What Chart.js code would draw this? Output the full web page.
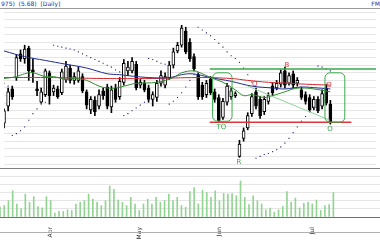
<!DOCTYPE html>
<html>
<head>
<meta charset="utf-8">
<script src="https://cdn.jsdelivr.net/npm/chart.js@4.4.0/dist/chart.umd.min.js"></script>
<style>
  body { margin: 0; background: #fff; width: 380px; height: 240px; overflow: hidden; position: relative; font-family: "DejaVu Sans", sans-serif; }
  #title { position: absolute; left: 1px; top: 0; font-size: 6px; line-height: 7px; color: #2c2c9c; white-space: pre; }
  #code { position: absolute; right: 0; top: 0; font-size: 6px; line-height: 7px; color: #2c2c9c; }
  .rule { position: absolute; left: 0; width: 380px; height: 1px; background: #9a9a9a; }
  #price-chart { position: absolute; left: 0; top: 8px; }
  #volume-chart { position: absolute; left: 0; top: 168px; }
</style>
</head>
<body>
<div id="title">975)  (5.68)  [Daily]</div>
<div id="code">FM</div>
<canvas id="price-chart" width="380" height="160"></canvas>
<canvas id="volume-chart" width="380" height="72"></canvas>
<div class="rule" style="top:8px"></div>
<div class="rule" style="top:168px; background:#808080"></div>
<div class="rule" style="top:232px; background:#b0b0b0"></div>
<script>
// daily prices, one entry per trading day (index 0 = first bar on the left)
let opens = [5.66,6.02,6.38,6.62,7.12,7.02,7.24,6.78,6.38,6.10, 6.26,6.72,6.32,6.38,6.30,6.58,6.82,6.56,6.56,6.64,
  6.32,5.94,6.14,6.02,6.34,6.42,6.00,6.40,6.22,6.52, 6.76,6.76,6.90,6.46,6.50,6.40,6.16,6.20,6.50,6.46,
  6.62,6.88,7.18,7.30,7.60,7.36,7.06,6.68,6.46,6.26, 6.58,6.32,6.20,5.78,6.10,6.22,6.24,4.96,5.34,5.56,
  5.86,6.32,6.16,5.90,6.12,6.44,6.40,6.48,6.76,6.50, 6.70,6.50,6.36,6.26,6.20,5.98,6.16,6.02,6.40,6.06];
let closes = [5.92,6.32,6.22,7.04,7.02,7.22,6.76,6.74,6.34,6.32, 6.76,6.24,6.40,6.22,6.74,6.86,6.56,6.64,6.76,6.34,
  6.04,6.16,5.90,6.26,6.24,6.02,6.36,6.16,6.54,6.92, 6.84,6.96,6.40,6.52,6.36,6.16,6.26,6.50,6.66,6.64,
  6.88,7.16,7.30,7.66,7.16,7.02,6.80,6.22,6.22,6.50, 6.30,6.16,5.72,6.12,6.44,6.34,6.28,5.22,5.50,5.82,
  6.22,6.02,5.82,6.16,6.24,6.30,6.50,6.72,6.46,6.66, 6.46,6.56,6.20,6.12,5.94,6.16,5.92,6.28,6.08,5.68];
let highs = [5.96,6.40,6.44,7.10,7.20,7.30,7.28,7.02,6.54,6.40, 6.80,6.76,6.46,6.44,6.80,6.96,6.88,6.72,6.84,6.70,
  6.36,6.22,6.22,6.36,6.40,6.48,6.44,6.48,6.62,7.00, 6.96,7.04,6.96,6.58,6.56,6.46,6.32,6.56,6.76,6.72,
  6.96,7.24,7.36,7.72,7.68,7.44,7.12,6.72,6.52,6.56, 6.64,6.38,6.26,6.18,6.50,6.40,6.32,5.30,5.56,5.88,
  6.28,6.40,6.22,6.22,6.30,6.50,6.56,6.78,6.84,6.72, 6.76,6.62,6.42,6.32,6.26,6.22,6.22,6.36,6.48,6.14];
let lows = [5.56,5.92,6.16,6.56,6.96,6.92,6.56,6.52,6.24,6.08, 6.22,6.06,6.24,6.18,6.26,6.52,6.50,6.48,6.52,6.30,
  5.96,5.86,5.82,5.96,6.16,5.96,5.88,6.10,6.16,6.46, 6.66,6.72,6.36,6.40,6.32,6.10,6.02,6.12,6.44,6.40,
  6.58,6.82,7.14,7.26,7.12,6.96,6.76,6.16,6.16,6.20, 6.26,6.10,5.68,5.74,6.04,6.16,6.20,4.94,5.28,5.52,
  5.80,5.96,5.76,5.84,6.06,6.24,6.36,6.42,6.40,6.46, 6.40,6.44,6.16,6.06,5.90,5.94,5.88,5.96,6.04,5.64];

// parabolic SAR dots
let sarValues = [6.50,6.44,5.40,5.44,5.50,5.58,5.72,5.86,5.96,6.06, 6.10,6.10,7.30,7.28,7.26,7.24,7.22,7.20,7.16,7.12,
  7.08,7.04,7.00,6.96,6.92,6.88,6.84,6.78,6.74,5.82, 5.86,5.92,5.98,6.04,6.10,7.02,7.00,6.96,6.92,6.90,
  6.06,6.12,6.20,6.30,6.42,6.56,6.68,7.68,7.62,7.56, 7.50,7.42,7.34,7.26,7.16,7.08,7.02,6.94,6.82,6.68,
  6.52,4.92,4.96,5.00,5.02,5.06,5.10,5.16,5.24,5.34, 5.46,5.58,5.70,5.80,5.90,6.00,6.86,6.84,6.80,6.76];

// volume (thousands)
let volumes = [1000,1170,1670,2670,1330,830,2330,1500,2070,1070, 930,2070,1670,400,570,570,730,670,1330,1500,
  1670,2330,1830,1500,1170,1670,3170,2830,1730,1500, 1170,2000,1330,670,1330,1830,1330,2000,1500,1670,
  2330,1670,2000,1170,1000,2600,3000,1330,2730,2500, 2000,2670,1670,2400,2330,2400,2170,3670,2000,1270,
  2170,1670,1330,730,900,500,730,1070,2600,1500, 1930,930,1400,1500,1330,1730,670,1170,1270,2500];

// moving averages at these bars
let blueIdx = [0,5,10,15,20,25,28,30,35,40,43,45,47,50,55,60,65,68,72,76,79];
let blueMA = [7.18,7.06,6.98,6.90,6.82,6.70,6.68,6.66,6.62,6.62,6.68,6.70,6.68,6.62,6.54,6.44,6.40,6.38,6.42,6.40,6.38];
let redIdx = [0,12,24,36,47,55,59,64,69,73,79];
let redMA = [6.62,6.62,6.60,6.60,6.62,6.60,6.56,6.52,6.50,6.48,6.46];
let greenIdx = [0,3,5,7,10,12,15,17,20,23,25,27,30,32,37,41,43,46,48,50,53,56,58,60,63,65,68,70,72,75,79];
let greenMA = [6.60,6.64,6.70,6.72,6.64,6.64,6.58,6.60,6.56,6.44,6.40,6.40,6.46,6.50,6.52,6.62,6.72,6.76,6.70,6.62,
  6.52,6.36,6.24,6.26,6.20,6.24,6.32,6.38,6.40,6.38,6.32];

// month labels under the volume panel
let monthIdx = [12, 33, 52, 74];
let monthNames = ["Apr", "May", "Jun", "Jul"];

// hand drawn markup
let resistLevel = 6.80;
let supportLevel = 5.68;
let markBoxes = [[50.5, 55.2, 6.72, 5.70], [77.7, 82.5, 6.72, 5.68]];
let markTexts = [["TO", 52.6, 5.58, "green"], ["O", 78.9, 5.54, "green"], ["R", 56.9, 4.84, "green"],
  ["B", 68.5, 6.88, "red"], ["O", 60.7, 6.48, "red"], ["O", 78.7, 6.46, "red"]];
let trendFrom = [59, 6.44];
let trendTo = [78.9, 5.72];

const X_MIN = 0;
const X_MAX = 90.05;
const GREEN = "#3aa84a";
const RED = "#e0353a";

function points(xs, ys) {
  return ys.map((v, i) => ({ x: xs[i], y: v }));
}
let days = opens.map((v, i) => i);
let wickData = days.map(i => ({ x: i, y: [lows[i], highs[i]] }));
let bodyData = days.map(i => ({ x: i, y: [opens[i], closes[i]] }));
let bodyColors = days.map(i => closes[i] >= opens[i] ? "#ffffff" : "#000000");
let sarData = points(days, sarValues);

// draws the lines, boxes and letters that were added by hand on the chart
const markupPlugin = {
  id: "markup",
  afterDatasetsDraw(chart) {
    let ctx = chart.ctx;
    let x = chart.scales.x;
    let y = chart.scales.y;
    ctx.save();
    ctx.lineWidth = 1.5;
    ctx.strokeStyle = GREEN;
    ctx.beginPath();
    ctx.moveTo(x.getPixelForValue(49.8), y.getPixelForValue(resistLevel));
    ctx.lineTo(x.getPixelForValue(X_MAX), y.getPixelForValue(resistLevel));
    ctx.stroke();
    ctx.strokeStyle = RED;
    ctx.beginPath();
    ctx.moveTo(x.getPixelForValue(49.8), y.getPixelForValue(supportLevel));
    ctx.lineTo(x.getPixelForValue(84.1), y.getPixelForValue(supportLevel));
    ctx.stroke();

    ctx.lineWidth = 1;
    ctx.strokeStyle = "#8fd39a";
    ctx.beginPath();
    ctx.moveTo(x.getPixelForValue(trendFrom[0]), y.getPixelForValue(trendFrom[1]));
    ctx.lineTo(x.getPixelForValue(trendTo[0]), y.getPixelForValue(trendTo[1]));
    ctx.stroke();

    ctx.strokeStyle = GREEN;
    markBoxes.forEach(b => {
      let left = x.getPixelForValue(b[0]);
      let right = x.getPixelForValue(b[1]);
      let top = y.getPixelForValue(b[2]);
      let bottom = y.getPixelForValue(b[3]);
      ctx.beginPath();
      ctx.roundRect(left, top, right - left, bottom - top, 5);
      ctx.stroke();
    });

    ctx.font = "7px 'DejaVu Sans'";
    ctx.textAlign = "center";
    ctx.textBaseline = "middle";
    markTexts.forEach(t => {
      ctx.fillStyle = t[3] == "red" ? RED : GREEN;
      ctx.fillText(t[0], x.getPixelForValue(t[1]), y.getPixelForValue(t[2]));
    });
    ctx.restore();
  }
};

let priceChart = new Chart(document.querySelector("#price-chart"), {
  type: "bar",
  data: {
    datasets: [
      { type: "bar", data: wickData, barThickness: 1, backgroundColor: "#000000", grouped: false, order: 5 },
      { type: "bar", data: bodyData, barThickness: 3, backgroundColor: bodyColors, borderColor: "#000000",
        borderWidth: 1, borderSkipped: false, grouped: false, order: 4 },
      { type: "line", data: points(redIdx, redMA), borderColor: "#d8262c", borderWidth: 1, pointRadius: 0, tension: 0.4, order: 3 },
      { type: "line", data: points(blueIdx, blueMA), borderColor: "#1f2a8c", borderWidth: 1, pointRadius: 0, tension: 0.4, order: 2 },
      { type: "line", data: points(greenIdx, greenMA), borderColor: "#2f8a2f", borderWidth: 1, pointRadius: 0, tension: 0.4, order: 1 },
      { type: "scatter", data: sarData, pointRadius: 0.8, pointStyle: "rect", backgroundColor: "#26267a", borderWidth: 0, order: 0 }
    ]
  },
  options: {
    responsive: false,
    animation: false,
    events: [],
    layout: { padding: 0 },
    plugins: { legend: { display: false }, tooltip: { enabled: false } },
    scales: {
      x: { type: "linear", min: X_MIN, max: X_MAX, offset: false, display: false },
      y: {
        min: 4.80, max: 8.00,
        ticks: { display: false, stepSize: 0.16 },
        grid: { color: "#e6e6e6", drawTicks: false },
        border: { display: false }
      }
    }
  },
  plugins: [markupPlugin]
});

let volumeChart = new Chart(document.querySelector("#volume-chart"), {
  type: "bar",
  data: {
    datasets: [
      { data: points(days, volumes), barThickness: 1, backgroundColor: "#93d493" }
    ]
  },
  options: {
    responsive: false,
    animation: false,
    events: [],
    layout: { padding: 0 },
    plugins: { legend: { display: false }, tooltip: { enabled: false } },
    scales: {
      x: {
        type: "linear", min: X_MIN, max: X_MAX, offset: false,
        grid: { display: false },
        border: { color: "#707070", width: 1 },
        afterBuildTicks: s => { s.ticks = monthIdx.map(v => ({ value: v })); },
        afterFit: s => { s.height = 23; },
        ticks: {
          autoSkip: false, minRotation: 90, maxRotation: 90, padding: 2,
          font: { size: 6, family: "DejaVu Sans" }, color: "#333333",
          callback: v => monthNames[monthIdx.indexOf(v)]
        }
      },
      y: {
        min: 0, max: 5000,
        afterBuildTicks: s => { s.ticks = [0, 1, 2, 3, 4, 5, 6].map(k => ({ value: k * 5000 / 6 })); },
        ticks: { display: false },
        grid: { color: "#e6e6e6", drawTicks: false },
        border: { display: false }
      }
    }
  }
});
</script>
</body>
</html>
